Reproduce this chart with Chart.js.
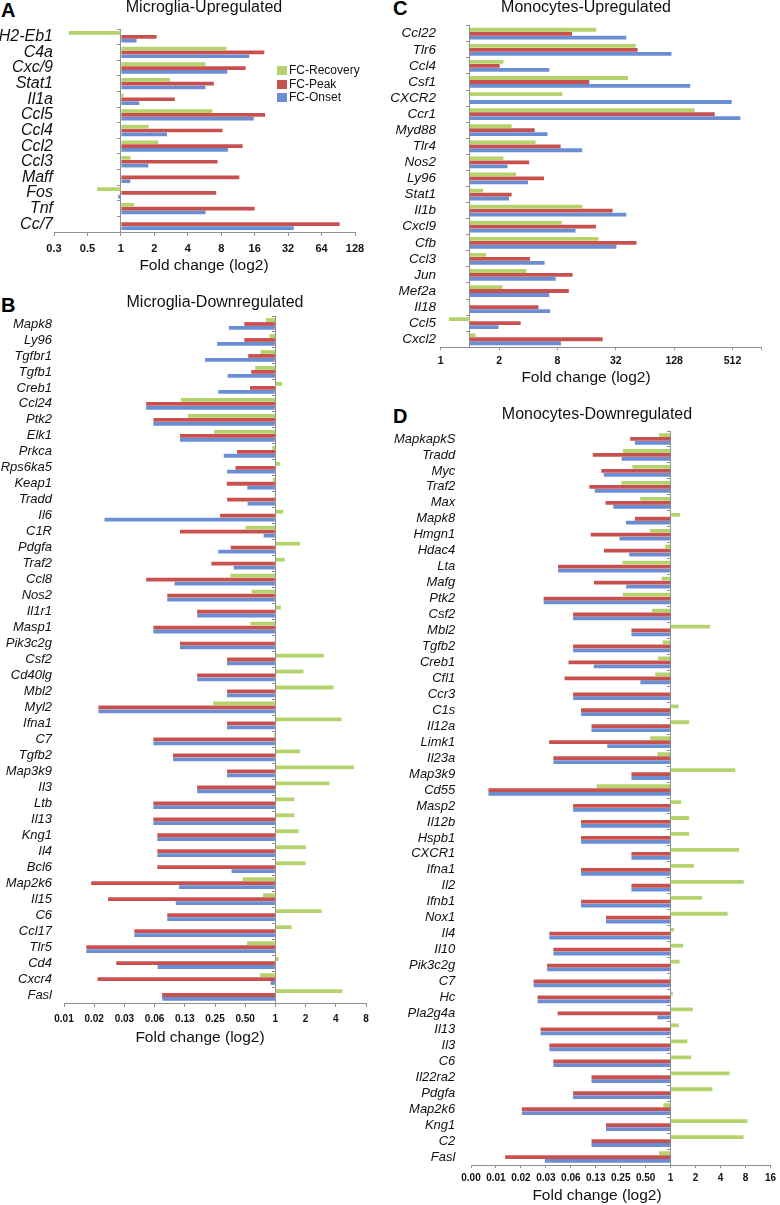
<!DOCTYPE html>
<html>
<head>
<meta charset="utf-8">
<script src="https://cdn.jsdelivr.net/npm/chart.js@4.4.1/dist/chart.umd.min.js"></script>
<style>
  body { margin: 0; background: #fff; overflow: hidden; font-family: "Liberation Sans", Arial, sans-serif; }
  canvas { position: absolute; }
  .letter { position: absolute; font: bold 20px/20px "Liberation Sans", Arial, sans-serif; color: #000; }
  #legendA { position: absolute; left: 277px; top: 64px; font: 12px "Liberation Sans", Arial, sans-serif; color: #111; }
  #legendA div { height: 13.7px; line-height: 13.7px; white-space: nowrap; }
  #legendA span { display: inline-block; width: 10px; height: 9px; margin-right: 2px; vertical-align: -1px; }
</style>
</head>
<body>
<div class="letter" style="left:1px;top:0px">A</div>
<div class="letter" style="left:1px;top:295px">B</div>
<div class="letter" style="left:393px;top:-2px">C</div>
<div class="letter" style="left:393px;top:406px">D</div>

<canvas id="chartA" width="390" height="280" style="left:0;top:0"></canvas>
<canvas id="chartB" width="390" height="770" style="left:0;top:280px"></canvas>
<canvas id="chartC" width="390" height="390" style="left:390px;top:0"></canvas>
<canvas id="chartD" width="390" height="820" style="left:390px;top:385px"></canvas>

<div id="legendA">
  <div><span style="background:#b4d36c"></span>FC-Recovery</div>
  <div><span style="background:#c8504e"></span>FC-Peak</div>
  <div><span style="background:#6a8ed4"></span>FC-Onset</div>
</div>

<script>
// all values are log2 fold change (0 = no change)

// A - Microglia upregulated
const genesA = ['H2-Eb1', 'C4a', 'Cxc/9', 'Stat1', 'Il1a', 'Ccl5', 'Ccl4', 'Ccl2', 'Ccl3', 'Maff', 'Fos', 'Tnf', 'Cc/7'];
const recoveryA = [-1.56, 3.16, 2.53, 1.47, 0.08, 2.74, 0.83, 1.12, 0.29, 0, -0.71, 0.39, 0];
const peakA = [1.07, 4.29, 3.73, 2.78, 1.61, 4.31, 3.04, 3.64, 2.89, 3.54, 2.85, 4.0, 6.54];
const onsetA = [0.47, 3.84, 3.18, 2.53, 0.55, 3.97, 1.38, 3.20, 0.82, 0.28, -0.08, 2.53, 5.17];
const tickValsA = [-2, -1, 0, 1, 2, 3, 4, 5, 6, 7];
const tickLabelsA = ['0.3', '0.5', '1', '2', '4', '8', '16', '32', '64', '128'];

// B - Microglia downregulated
const genesB = ['Mapk8', 'Ly96', 'Tgfbr1', 'Tgfb1', 'Creb1', 'Ccl24', 'Ptk2', 'Elk1', 'Prkca', 'Rps6ka5',
  'Keap1', 'Tradd', 'Il6', 'C1R', 'Pdgfa', 'Traf2', 'Ccl8', 'Nos2', 'Il1r1', 'Masp1',
  'Pik3c2g', 'Csf2', 'Cd40lg', 'Mbl2', 'Myl2', 'Ifna1', 'C7', 'Tgfb2', 'Map3k9', 'Il3',
  'Ltb', 'Il13', 'Kng1', 'Il4', 'Bcl6', 'Map2k6', 'Il15', 'C6', 'Ccl17', 'Tlr5',
  'Cd4', 'Cxcr4', 'Fasl'];
const recoveryB = [-0.31, -0.19, -0.49, -0.67, 0.22, -3.13, -2.90, -2.03, -0.11, 0.16,
  -0.09, -0.03, 0.26, -0.99, 0.81, 0.31, -1.49, -0.79, 0.18, -0.83,
  0, 1.60, 0.93, 1.92, -2.06, 2.19, -0.04, 0.82, 2.60, 1.79,
  0.63, 0.63, 0.77, 1.01, 1.00, -1.08, -0.41, 1.53, 0.54, -0.94,
  0.10, -0.51, 2.22];
const peakB = [-1.03, -1.03, -0.90, -0.80, -0.84, -4.28, -4.04, -3.16, -1.27, -1.32,
  -1.61, -1.60, -1.83, -3.16, -1.48, -2.12, -4.28, -3.58, -2.59, -4.04,
  -3.16, -1.60, -2.59, -1.60, -5.86, -1.60, -4.04, -3.39, -1.60, -2.59,
  -4.04, -4.04, -3.91, -3.91, -3.91, -6.10, -5.54, -3.58, -4.67, -6.26,
  -5.27, -5.89, -3.75];
const onsetB = [-1.54, -1.93, -2.33, -1.58, -1.89, -4.28, -4.04, -3.16, -1.71, -1.60,
  -0.93, -0.92, -5.66, -0.39, -1.89, -1.38, -3.34, -3.58, -2.59, -4.04,
  -3.16, -1.60, -2.59, -1.60, -5.86, -1.60, -4.04, -3.39, -1.60, -2.59,
  -4.04, -4.04, -3.91, -3.91, -1.45, -3.19, -3.30, -3.58, -4.67, -6.26,
  -3.90, -0.16, -3.75];
const tickValsB = [-7, -6, -5, -4, -3, -2, -1, 0, 1, 2, 3];
const tickLabelsB = ['0.01', '0.02', '0.03', '0.06', '0.13', '0.25', '0.50', '1', '2', '4', '8'];

// C - Monocytes upregulated
const genesC = ['Ccl22', 'Tlr6', 'Ccl4', 'Csf1', 'CXCR2', 'Ccr1', 'Myd88', 'Tlr4', 'Nos2', 'Ly96',
  'Stat1', 'Il1b', 'Cxcl9', 'Cfb', 'Ccl3', 'Jun', 'Mef2a', 'Il18', 'Ccl5', 'Cxcl2'];
const recoveryC = [4.33, 5.68, 1.15, 5.42, 3.17, 7.70, 1.43, 2.25, 1.15, 1.58,
  0.45, 3.86, 3.15, 4.41, 0.56, 1.94, 1.12, 0, -0.72, 0.19];
const peakC = [3.50, 5.75, 1.02, 4.09, 0, 8.39, 2.22, 3.11, 2.03, 2.54,
  1.43, 4.89, 4.32, 5.71, 2.06, 3.52, 3.39, 2.35, 1.74, 4.55];
const onsetC = [5.36, 6.91, 2.72, 7.55, 8.97, 9.27, 2.66, 3.85, 1.29, 1.99,
  1.34, 5.36, 3.62, 5.02, 2.56, 2.94, 2.72, 2.75, 0.98, 3.12];
const tickValsC = [-1, 1, 3, 5, 7, 9, 10];
const tickLabelsC = ['1', '2', '8', '32', '128', '512', ''];

// D - Monocytes downregulated
const genesD = ['MapkapkS', 'Tradd', 'Myc', 'Traf2', 'Max', 'Mapk8', 'Hmgn1', 'Hdac4', 'Lta', 'Mafg',
  'Ptk2', 'Csf2', 'Mbl2', 'Tgfb2', 'Creb1', 'Cfl1', 'Ccr3', 'C1s', 'Il12a', 'Limk1',
  'Il23a', 'Map3k9', 'Cd55', 'Masp2', 'Il12b', 'Hspb1', 'CXCR1', 'Ifna1', 'Il2', 'Ifnb1',
  'Nox1', 'Il4', 'Il10', 'Pik3c2g', 'C7', 'Hc', 'Pla2g4a', 'Il13', 'Il3', 'C6',
  'Il22ra2', 'Pdgfa', 'Map2k6', 'Kng1', 'C2', 'Fasl'];
const recoveryD = [-0.46, -1.91, -1.53, -1.97, -1.22, 0.38, -0.83, -0.22, -1.93, -0.36,
  -1.91, -0.74, 1.58, -0.32, -0.50, -0.62, 0, 0.32, 0.74, -0.82,
  -0.53, 2.59, -2.96, 0.42, 0.74, 0.74, 2.74, 0.93, 2.93, 1.26,
  2.28, 0.13, 0.50, 0.36, -0.05, 0.09, 0.89, 0.32, 0.67, 0.82,
  2.36, 1.68, -0.29, 3.08, 2.92, -0.46];
const peakD = [-1.62, -3.12, -2.78, -3.26, -2.61, -1.43, -3.20, -2.67, -4.51, -3.07,
  -5.09, -3.91, -1.57, -3.91, -4.09, -4.25, -3.91, -3.59, -3.17, -4.87,
  -4.70, -1.57, -7.30, -3.91, -3.59, -3.59, -1.57, -3.59, -1.57, -3.59,
  -2.59, -4.86, -4.70, -4.95, -5.49, -5.33, -4.53, -5.21, -4.86, -4.70,
  -3.17, -3.91, -5.96, -2.59, -3.17, -6.63];
const onsetD = [-1.43, -1.96, -2.68, -3.04, -2.30, -1.79, -2.05, -1.66, -4.51, -1.78,
  -5.09, -3.91, -1.57, -3.91, -3.08, -1.21, -3.91, -3.59, -3.17, -2.54,
  -4.70, -1.57, -7.30, -3.91, -3.59, -3.59, -1.57, -3.59, -1.57, -3.59,
  -2.59, -4.86, -4.70, -4.95, -5.49, -5.33, -0.53, -5.21, -4.86, -4.70,
  -3.17, -3.91, -5.96, -2.59, -3.17, -5.04];
const tickValsD = [-8, -7, -6, -5, -4, -3, -2, -1, 0, 1, 2, 3, 4];
const tickLabelsD = ['0.00', '0.01', '0.02', '0.03', '0.06', '0.13', '0.25', '0.50', '1', '2', '4', '8', '16'];

const GREEN = '#b4d36c';
const RED = '#c8504e';
const BLUE = '#6a8ed4';
const AXIS = '#8f8f8f';
const TEXT = '#111';
const FONT = '"Liberation Sans", Arial, Helvetica, sans-serif';

// gene names are wider than the y scale box, so let them use the whole left margin
const labelRoom = {
    id: 'labelRoom',
    afterLayout(chart) {
        chart.scales.y.left = 0;
    }
};

function drawPanel(id, genes, recovery, peak, onset, tickVals, tickLabels, look) {
    return new Chart(document.getElementById(id), {
        type: 'bar',
        data: {
            labels: genes,
            datasets: [
                { label: 'FC-Recovery', data: recovery, backgroundColor: GREEN, xAxisID: 'x', yAxisID: 'y' },
                { label: 'FC-Peak', data: peak, backgroundColor: RED, xAxisID: 'x', yAxisID: 'y' },
                { label: 'FC-Onset', data: onset, backgroundColor: BLUE, xAxisID: 'x', yAxisID: 'y' }
            ]
        },
        plugins: [labelRoom],
        options: {
            indexAxis: 'y',
            responsive: false,
            animation: false,
            layout: { padding: { left: look.pl, right: look.pr, top: look.pt, bottom: 0 } },
            datasets: { bar: { categoryPercentage: 0.74, barPercentage: 0.96 } },
            plugins: {
                legend: { display: false },
                tooltip: { enabled: false },
                title: {
                    display: true,
                    text: look.title,
                    fullSize: look.titleFull,
                    color: TEXT,
                    font: { family: FONT, size: 16, weight: 'normal', lineHeight: 1 },
                    padding: { top: 0, bottom: look.titleGap }
                },
                subtitle: {
                    display: true,
                    position: 'bottom',
                    text: 'Fold change (log2)',
                    color: TEXT,
                    font: { family: FONT, size: 15.5, weight: 'normal', lineHeight: 1.2 },
                    padding: { top: 0, bottom: look.subPad }
                }
            },
            scales: {
                x: {
                    type: 'linear',
                    min: look.min,
                    max: look.max,
                    afterBuildTicks: s => { s.ticks = tickVals.map(v => ({ value: v })); },
                    afterFit: s => { s.height = look.xH; },
                    ticks: {
                        callback: (v, i) => tickLabels[i],
                        autoSkip: false,
                        maxRotation: 0,
                        color: TEXT,
                        padding: look.tickPad,
                        font: { family: FONT, size: look.tickSize, weight: 'bold' }
                    },
                    grid: { drawOnChartArea: false, drawTicks: true, tickLength: look.tl, color: AXIS },
                    border: { color: AXIS }
                },
                y: {
                    afterFit: s => { s.width = look.yW; },
                    ticks: {
                        autoSkip: false,
                        color: TEXT,
                        padding: look.labelPad,
                        font: { family: FONT, size: look.labelSize, style: 'italic' }
                    },
                    grid: { display: false, drawTicks: false },
                    border: { display: false }
                },
                // vertical line at fold change 1
                y2: {
                    type: 'category',
                    axis: 'y',
                    position: { x: 0 },
                    offset: true,
                    ticks: { display: false },
                    grid: { offset: true, drawOnChartArea: false, tickLength: 3, color: AXIS },
                    border: { color: AXIS }
                }
            }
        }
    });
}

drawPanel('chartA', genesA, recoveryA, peakA, onsetA, tickValsA, tickLabelsA, {
    title: 'Microglia-Upregulated', titleFull: true, pl: 53, pr: 35, pt: 0, yW: 1, titleGap: 13,
    labelSize: 16, labelPad: 1, xH: 24.7, tl: 4, tickPad: 6, tickSize: 11, subPad: 4.7, min: -2, max: 7
});

drawPanel('chartB', genesB, recoveryB, peakB, onsetB, tickValsB, tickLabelsB, {
    title: 'Microglia-Downregulated', titleFull: false, pl: 34, pr: 24, pt: 15, yW: 30, titleGap: 5,
    labelSize: 13, labelPad: 12, xH: 25.7, tl: 4, tickPad: 6, tickSize: 10, subPad: 2.7, min: -7, max: 3
});

drawPanel('chartC', genesC, recoveryC, peakC, onsetC, tickValsC, tickLabelsC, {
    title: 'Monocytes-Upregulated', titleFull: true, pl: 20.3, pr: 18.3, pt: 0, yW: 30.4, titleGap: 9.7,
    labelSize: 13.5, labelPad: 4.7, xH: 21.4, tl: 3, tickPad: 5, tickSize: 10.5, subPad: 2.7, min: -1, max: 10
});

drawPanel('chartD', genesD, recoveryD, peakD, onsetD, tickValsD, tickLabelsD, {
    title: 'Monocytes-Downregulated', titleFull: true, pl: 29, pr: 5, pt: 22, yW: 52, titleGap: 8,
    labelSize: 13, labelPad: 15.7, xH: 21.4, tl: 3, tickPad: 4, tickSize: 10, subPad: 0, min: -8, max: 4
});
</script>
</body>
</html>
